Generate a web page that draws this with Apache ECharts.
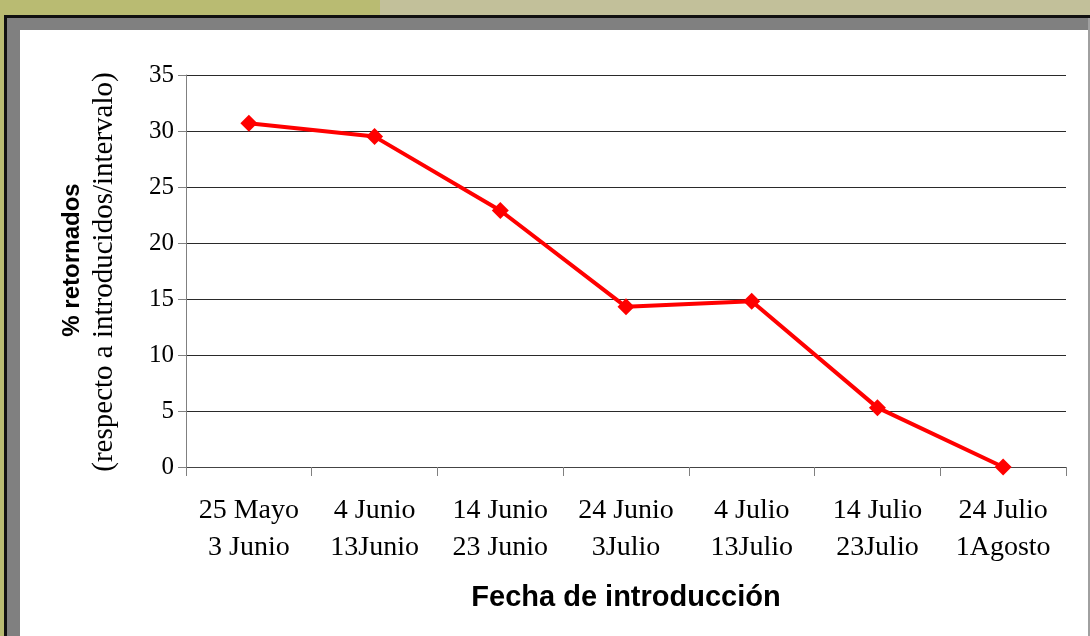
<!DOCTYPE html>
<html>
<head>
<meta charset="utf-8">
<script src="https://cdn.jsdelivr.net/npm/echarts@6/dist/echarts.min.js"></script>
<style>
html,body{margin:0;padding:0;background:#fff;}
#c{width:1090px;height:636px;}
</style>
</head>
<body>
<div id="c"></div>
<script>
var categories = ['25 Mayo\n3 Junio','4 Junio\n13Junio','14 Junio\n23 Junio','24 Junio\n3Julio','4 Julio\n13Julio','14 Julio\n23Julio','24 Julio\n1Agosto'];
var retornados = [30.7, 29.5, 22.9, 14.3, 14.8, 5.3, 0];
var yTicks = [0, 5, 10, 15, 20, 25, 30, 35];
var xName = 'Fecha de introducción';
var yName1 = '% retornados';
var yName2 = '(respecto a introducidos/intervalo)';

var chart = echarts.init(document.getElementById('c'), null, {renderer:'canvas'});
chart.setOption({
  backgroundColor: '#ffffff',
  animation: false,
  graphic: [
    {type:'rect', shape:{x:0,y:0,width:380,height:15}, style:{fill:'#b9bb72'}, z:-10},
    {type:'rect', shape:{x:380,y:0,width:710,height:15}, style:{fill:'#c2c09a'}, z:-10},
    {type:'rect', shape:{x:0,y:0,width:4,height:636}, style:{fill:'#b9bb72'}, z:-10},
    {type:'rect', shape:{x:4,y:15,width:1086,height:3}, style:{fill:'#111111'}, z:-9},
    {type:'rect', shape:{x:4,y:15,width:3,height:621}, style:{fill:'#111111'}, z:-9},
    {type:'rect', shape:{x:7,y:18,width:1083,height:12}, style:{fill:'#808080'}, z:-8},
    {type:'rect', shape:{x:7,y:18,width:13,height:618}, style:{fill:'#808080'}, z:-8},
    {type:'rect', shape:{x:1088,y:18,width:2,height:618}, style:{fill:'#a0a0a0'}, z:-8},
    {type:'text', x:72, y:260, rotation:Math.PI/2,
      style:{text:yName1, font:'bold 24px "Liberation Sans", Arial, sans-serif', fill:'#000', textAlign:'center', textVerticalAlign:'middle'}},
    {type:'text', x:104, y:272, rotation:Math.PI/2,
      style:{text:yName2, font:'29px "Liberation Serif", "Times New Roman", serif', fill:'#000', textAlign:'center', textVerticalAlign:'middle'}}
  ],
  grid: {left:186, right:24, top:75, bottom:169, containLabel:false},
  xAxis: {
    type:'category',
    data: categories,
    boundaryGap: true,
    name: xName,
    nameLocation: 'middle',
    nameGap: 116,
    nameTextStyle: {fontFamily:'"Liberation Sans", Arial, sans-serif', fontWeight:'bold', fontSize:29, color:'#000'},
    axisLine: {show:true, lineStyle:{color:'#444', width:1}},
    axisTick: {show:true, alignWithLabel:false, length:9, lineStyle:{color:'#808080', width:1}},
    axisLabel: {fontFamily:'"Liberation Serif", "Times New Roman", serif', fontSize:28, color:'#000', lineHeight:37, margin:25, interval:0}
  },
  yAxis: {
    type:'value',
    min: yTicks[0],
    max: yTicks[yTicks.length-1],
    interval: 5,
    axisLine: {show:true, lineStyle:{color:'#808080', width:1}},
    axisTick: {show:true, length:8, lineStyle:{color:'#808080', width:1}},
    axisLabel: {fontFamily:'"Liberation Serif", "Times New Roman", serif', fontSize:25, color:'#000', margin:12},
    splitLine: {show:true, lineStyle:{color:'#2a2a2a', width:1}}
  },
  series: [{
    type:'line',
    data: retornados,
    symbol:'diamond',
    symbolSize:17,
    lineStyle:{color:'#ff0000', width:4},
    itemStyle:{color:'#ff0000'},
    z:5
  }]
});
</script>
</body>
</html>
